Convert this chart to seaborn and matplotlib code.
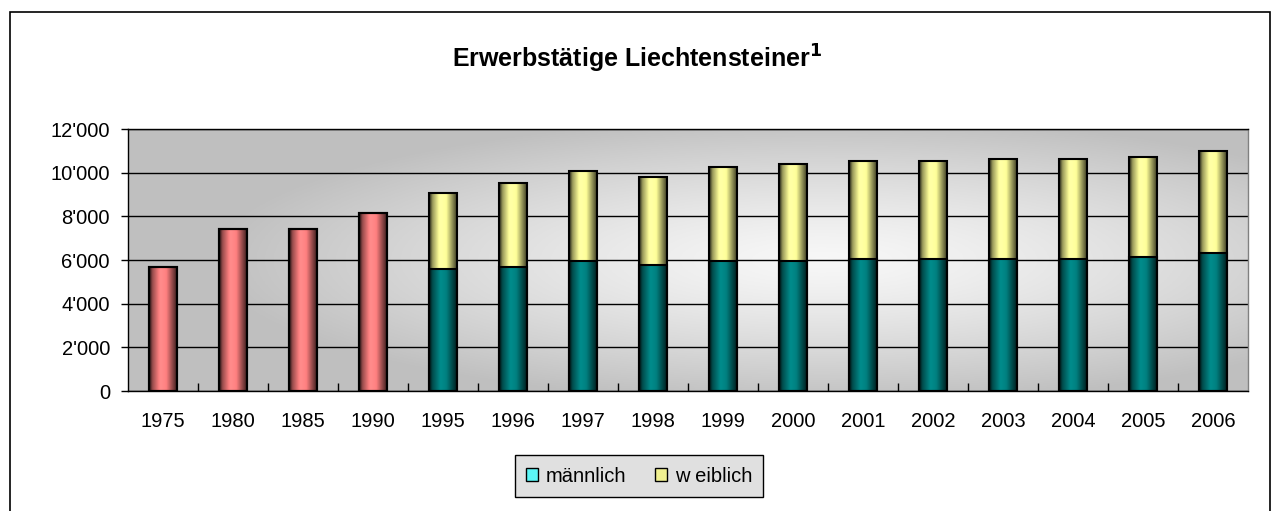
import numpy as np
import pandas as pd
import seaborn as sns
import matplotlib
matplotlib.use("Agg")
import matplotlib.pyplot as plt
from matplotlib.colors import to_rgb
from matplotlib.patches import Patch, Rectangle
from matplotlib.ticker import FuncFormatter, FixedLocator

jahre = ["1975", "1980", "1985", "1990", "1995", "1996", "1997", "1998",
         "1999", "2000", "2001", "2002", "2003", "2004", "2005", "2006"]
# 1975-1990 nur Total, ab 1995 nach Geschlecht
gesamt_frueher = [5700, 7430, 7430, 8150]
maennlich = [5600, 5680, 5950, 5770, 5950, 5950, 6050, 6050, 6050, 6050, 6140, 6320]
weiblich = [3480, 3860, 4130, 4030, 4290, 4430, 4480, 4480, 4580, 4580, 4580, 4660]

ROSA = "#ff8080"
PETROL = "#008080"
GELB = "#ffff99"

df = pd.DataFrame({
    "Jahr": jahre,
    "unten": gesamt_frueher + maennlich,
    "oben": gesamt_frueher + [m + w for m, w in zip(maennlich, weiblich)],
})

sns.set_style("white")
plt.rcParams["font.family"] = ["Liberation Sans", "DejaVu Sans"]
plt.rcParams["text.color"] = "black"
plt.rcParams["xtick.color"] = "black"
plt.rcParams["ytick.color"] = "black"

fig = plt.figure(figsize=(12.75, 5.11), dpi=100)
ax = fig.add_axes([128 / 1275, 1 - 391 / 511, (1248 - 128) / 1275, (391 - 129) / 511])

n_alt = len(gesamt_frueher)
farben_oben = [ROSA] * n_alt + [GELB] * len(weiblich)
farben_unten = [ROSA] * n_alt + [PETROL] * len(maennlich)

sns.barplot(data=df, x="Jahr", y="oben", hue="Jahr", palette=farben_oben,
            legend=False, width=0.41, ax=ax, saturation=1)
n_oben = len(ax.patches)
sns.barplot(data=df, x="Jahr", y="unten", hue="Jahr", palette=farben_unten,
            legend=False, width=0.41, ax=ax, saturation=1)

# Hintergrund mit Verlauf (wie Excel)
gx, gy = np.meshgrid(np.linspace(0, 1, 400), np.linspace(0, 1, 200))
r = np.sqrt(((gx - 0.62) / 0.55) ** 2 + ((gy - 0.5) / 0.55) ** 2)
r = np.clip(r, 0, 1)
grau = 0.97 - (0.97 - 0.75) * r ** 1.3
bg = np.dstack([grau, grau, grau])
ax.imshow(bg, extent=[-0.5, 15.5, 0, 12000], aspect="auto", zorder=0,
          origin="lower")
ax.patch.set_visible(False)

# Balken mit horizontalem Verlauf
prof_x = [0.0, 0.12, 0.4, 0.6, 1.0]
prof_f = [0.12, 0.6, 1.1, 1.0, 0.18]
t = np.linspace(0, 1, 64)
faktor = np.interp(t, prof_x, prof_f)
for i, p in enumerate(ax.patches):
    x0, y0 = p.get_xy()
    w, h = p.get_width(), p.get_height()
    basis = np.array(to_rgb(p.get_facecolor()))
    arr = np.clip(basis[None, :] * faktor[:, None], 0, 1)[None, :, :]
    z = 1.5 if i < n_oben else 1.6
    im = ax.imshow(arr, extent=[x0, x0 + w, y0, y0 + h], aspect="auto",
                   zorder=z, interpolation="bilinear")
    im.set_clip_path(p)
    p.set_facecolor("none")
    p.set_edgecolor("black")
    p.set_linewidth(1.5)
    p.set_zorder(2)

ax.set_xlim(-0.5, 15.5)
ax.set_ylim(0, 12000)
ax.set_yticks(range(0, 12001, 2000))
ax.yaxis.set_major_formatter(FuncFormatter(lambda v, _: f"{int(v):,}".replace(",", "'")))
ax.grid(axis="y", color="black", linewidth=1)
ax.set_axisbelow(True)
ax.set_xlabel("")
ax.set_ylabel("")

ax.tick_params(axis="y", direction="out", length=5, width=1, colors="black",
               labelsize=14.5, pad=8, left=True)
ax.tick_params(axis="x", which="major", length=0, labelsize=14.5, pad=15,
               colors="black")
ax.xaxis.set_minor_locator(FixedLocator([i + 0.5 for i in range(15)]))
ax.tick_params(axis="x", which="minor", direction="in", length=6, width=1,
               color="black", bottom=True)

for s in ["left", "bottom", "top"]:
    ax.spines[s].set_color("black")
    ax.spines[s].set_linewidth(1)
ax.spines["right"].set_color("#808080")
ax.spines["right"].set_linewidth(1)

fig.text(0.5, 1 - 59 / 511, r"Erwerbstätige Liechtensteiner$^\mathbf{1}$",
         ha="center", va="center", fontsize=18, fontweight="bold", color="black")

handles = [Patch(facecolor="#5cf5f5", edgecolor="black", label="männlich"),
           Patch(facecolor="#f0f090", edgecolor="black", label="w eiblich")]
leg = fig.legend(handles=handles, loc="center", bbox_to_anchor=(639 / 1275, 1 - 476 / 511),
                 ncol=2, frameon=True, fancybox=False, fontsize=14.5,
                 handlelength=0.6, handleheight=0.6, handletextpad=0.4,
                 columnspacing=1.4, borderpad=0.55)
leg.get_frame().set_facecolor("#e0e0e0")
leg.get_frame().set_edgecolor("black")
leg.get_frame().set_linewidth(1)
leg.get_frame().set_alpha(1)

fig.add_artist(Rectangle((10 / 1275, -0.1), 1260 / 1275, 0.1 + (511 - 12) / 511,
                         transform=fig.transFigure, fill=False,
                         edgecolor="black", linewidth=1.2))

fig.savefig("out.png", dpi=100, facecolor="white")
